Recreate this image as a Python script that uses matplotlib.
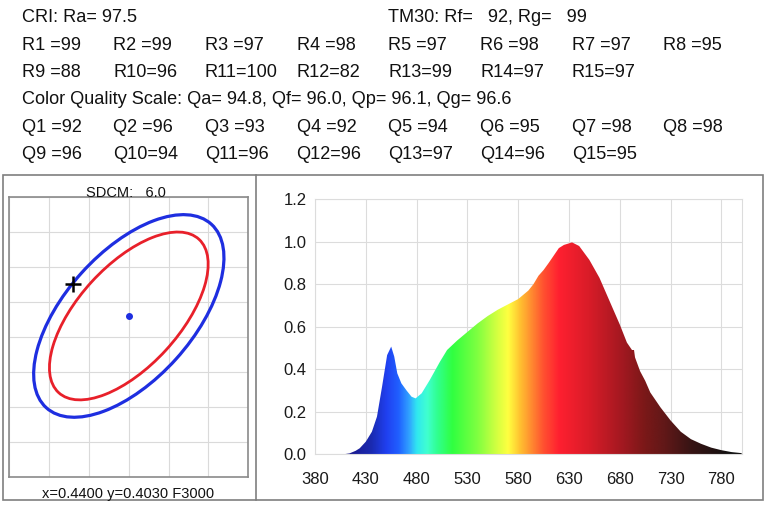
import numpy as np
import matplotlib
matplotlib.use("Agg")
import matplotlib.pyplot as plt
from matplotlib import font_manager
from matplotlib.colors import LinearSegmentedColormap, Normalize
from matplotlib.patches import Ellipse, Rectangle
from matplotlib.lines import Line2D

# color rendering numbers
ra = 97.5
rf, rg = 92, 99
r_values = [99, 99, 97, 98, 97, 98, 97, 95, 88, 96, 100, 82, 99, 97, 97]
qa, qf, qp, qg = 94.8, 96.0, 96.1, 96.6
q_values = [92, 96, 93, 92, 94, 95, 98, 98, 96, 94, 96, 96, 97, 96, 95]

# SDCM panel (units: grid cells 40 wide x 35 high)
sdcm = 6.0
cie_x, cie_y, ref_name = 0.4400, 0.4030, "F3000"
center = (120, 161)
ellipse_outer = (247, 128, 47.8)   # width, height, angle
ellipse_inner = (208, 101, 47.3)
measured = (64, 193)

# relative spectrum
wl = [400, 410, 414, 420, 424, 430, 436, 441, 446, 451, 455, 458, 461, 465,
      470, 475, 479, 485, 493, 503, 510, 520, 530, 540, 550, 560, 570,
      580, 590, 595, 600, 605, 610, 615, 620, 625, 633, 640, 650, 660, 670,
      680, 687, 692, 694, 695, 700, 705, 710, 720, 730, 740, 750, 760, 770,
      780, 790, 800]
sp = [0.0, 0.0, 0.003, 0.015, 0.027, 0.058, 0.105, 0.176, 0.317, 0.466, 0.506,
      0.459, 0.38, 0.333, 0.30, 0.27, 0.262, 0.286, 0.349, 0.435, 0.49, 0.535,
      0.575, 0.615, 0.65, 0.68, 0.705, 0.73, 0.77, 0.80, 0.84, 0.867, 0.90,
      0.935, 0.97, 0.985, 0.997, 0.98, 0.915, 0.83, 0.72, 0.61, 0.525, 0.49,
      0.49, 0.455, 0.39, 0.345, 0.29, 0.22, 0.158, 0.105, 0.07, 0.048, 0.03,
      0.018, 0.009, 0.004]

# wavelength colour stops for the fill
color_stops = [(380, "#101060"), (415, "#1a1a90"), (435, "#1a2ab0"),
               (450, "#2040f0"), (462, "#2060ff"), (472, "#30a0ff"),
               (480, "#30e8f0"), (490, "#40ffd0"), (500, "#30ff90"),
               (515, "#30ff40"), (540, "#80ff40"), (558, "#d0ff40"),
               (570, "#ffff40"), (582, "#ffc030"), (592, "#ff9030"),
               (605, "#ff5030"), (620, "#ff2030"), (650, "#d81c28"),
               (684, "#a01820"), (705, "#7a1818"), (725, "#601818"),
               (750, "#381414"), (790, "#101010"), (800, "#080808")]


def has_font(name):
    try:
        font_manager.findfont(font_manager.FontProperties(family=name),
                              fallback_to_default=False)
        return True
    except Exception:
        return False


if has_font("Liberation Sans Narrow"):
    label_font, label_size, small_size = "Liberation Sans Narrow", 15, 12.5
else:
    label_font, label_size, small_size = "Liberation Sans", 13.1, 10.5

W, H = 768, 512
fig = plt.figure(figsize=(W / 100, H / 100), dpi=100)


def fx(px):
    return px / W


def fy(py):
    return 1 - py / H


# ---- text block ----
txt = dict(fontfamily=label_font, fontsize=label_size, color="#111111",
           va="baseline", ha="left")
col0, col_step = 21.5, 91.7
row0, row_step = 22.5, 27.3
fig.text(fx(col0), fy(row0), f"CRI: Ra= {ra}", **txt)
fig.text(fx(col0 + 4 * col_step), fy(row0), f"TM30: Rf=   {rf}, Rg=   {rg}", **txt)
for i, v in enumerate(r_values):
    fig.text(fx(col0 + (i % 8) * col_step), fy(row0 + (1 + i // 8) * row_step),
             f"R{i + 1:<2}={v}", **txt)
fig.text(fx(col0), fy(row0 + 3 * row_step),
         f"Color Quality Scale: Qa= {qa:.1f}, Qf= {qf:.1f}, Qp= {qp:.1f}, Qg= {qg:.1f}",
         **txt)
for i, v in enumerate(q_values):
    fig.text(fx(col0 + (i % 8) * col_step), fy(row0 + (4 + i // 8) * row_step),
             f"Q{i + 1:<2}={v}", **txt)

# ---- panel frames ----
fig.patches.append(Rectangle((fx(3), fy(500)), fx(760), 325 / H, transform=fig.transFigure,
                             fill=False, edgecolor="#7f7f7f", lw=1.2))
fig.lines.append(Line2D([fx(256), fx(256)], [fy(500), fy(175)], transform=fig.transFigure,
                        color="#7f7f7f", lw=1.2))

# ---- SDCM panel ----
ax1 = fig.add_axes([fx(9.3), fy(477.3), 239 / W, 280.6 / H])
ax1.set_xlim(0, 240)
ax1.set_ylim(0, 280)
ax1.set_xticks(np.arange(0, 241, 40))
ax1.set_yticks(np.arange(0, 281, 35))
ax1.tick_params(length=0, labelbottom=False, labelleft=False)
ax1.grid(True, color="#dadada", lw=0.8)
for s in ax1.spines.values():
    s.set_color("#8a8a8a")
    s.set_linewidth(1.2)
w, h, a = ellipse_outer
ax1.add_patch(Ellipse(center, w, h, angle=a, fill=False, edgecolor="#1e2ee0", lw=2.3, zorder=3))
w, h, a = ellipse_inner
ax1.add_patch(Ellipse(center, w, h, angle=a, fill=False, edgecolor="#e8202a", lw=2.0, zorder=3))
ax1.plot(*center, "o", color="#1e2ee0", ms=4, zorder=4)
ax1.plot(*measured, "+", color="black", ms=12, mew=1.8, zorder=5)

fig.text(fx(126), fy(197), f"SDCM:   {sdcm:.1f}", fontfamily=label_font, fontsize=small_size,
         ha="center", va="baseline", color="#111111")
fig.text(fx(128), fy(498), f"x={cie_x:.4f} y={cie_y:.4f} {ref_name}", fontfamily=label_font,
         fontsize=small_size, ha="center", va="baseline", color="#111111")

# ---- spectrum panel ----
ax2 = fig.add_axes([fx(315), fy(454), 426.7 / W, 254.7 / H])
cmap = LinearSegmentedColormap.from_list(
    "spec", [((n - 380) / 420, c) for n, c in color_stops], N=512)
poly = ax2.fill_between(wl, sp, 0, color="none", lw=0)
grad = np.linspace(380, 800, 841).reshape(1, -1)
im = ax2.imshow(grad, extent=(380, 800, 0, 1.2), aspect="auto", cmap=cmap,
                norm=Normalize(380, 800), origin="lower", zorder=2, interpolation="bilinear")
im.set_clip_path(poly.get_paths()[0], transform=ax2.transData)
ax2.set_xlim(380, 800)
ax2.set_ylim(0, 1.2)
ax2.set_xticks(np.arange(380, 781, 50))
ax2.set_yticks(np.arange(0, 1.21, 0.2))
ax2.set_yticklabels([f"{v:.1f}" for v in np.arange(0, 1.21, 0.2)])
ax2.grid(True, color="#dcdcdc", lw=0.8, zorder=0)
ax2.set_axisbelow(True)
ax2.tick_params(axis="both", length=0, labelsize=12, labelcolor="#1a1a1a")
ax2.tick_params(axis="x", pad=13)
ax2.tick_params(axis="y", pad=6)
for lab in ax2.get_xticklabels() + ax2.get_yticklabels():
    lab.set_fontfamily("Liberation Sans")
for s in ax2.spines.values():
    s.set_color("#dcdcdc")
    s.set_linewidth(0.8)

fig.savefig("out.png", dpi=100)
